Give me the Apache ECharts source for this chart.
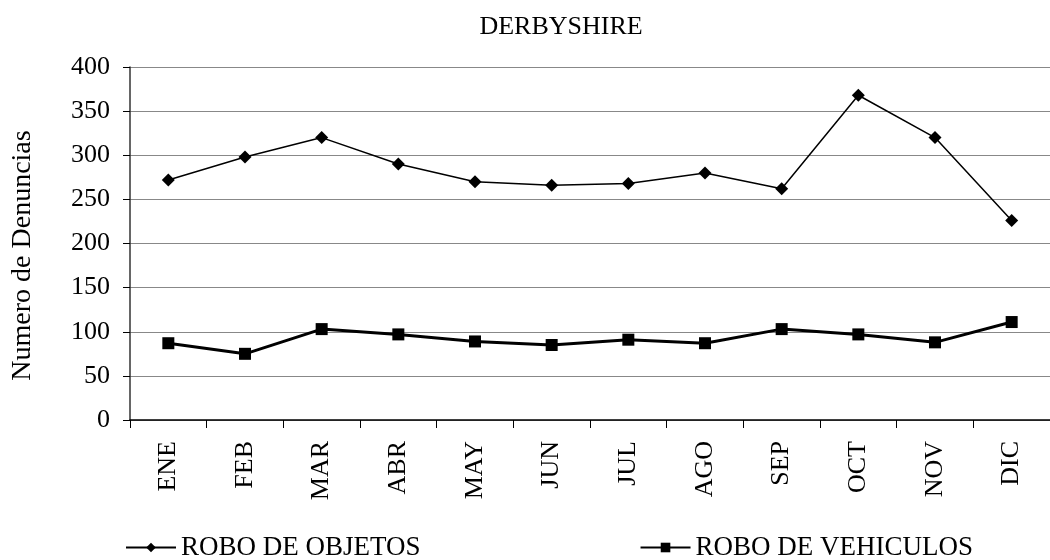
<!DOCTYPE html>
<html>
<head>
<meta charset="utf-8">
<script src="https://cdn.jsdelivr.net/npm/echarts@6/dist/echarts.min.js"></script>
<style>html,body{margin:0;padding:0;background:#fff}#c{width:1050px;height:560px}</style>
</head>
<body>
<div id="c"></div>
<script>
const months = ['ENE','FEB','MAR','ABR','MAY','JUN','JUL','AGO','SEP','OCT','NOV','DIC'];
const roboObjetos = [272, 298, 320, 290, 270, 266, 268, 280, 262, 368, 320, 226];
const roboVehiculos = [87, 75, 103, 97, 89, 85, 91, 87, 103, 97, 88, 111];
const yTicks = [0, 50, 100, 150, 200, 250, 300, 350, 400];
const titleText = 'DERBYSHIRE';
const yName = 'Numero de Denuncias';
const seriesNames = ['ROBO DE OBJETOS', 'ROBO DE VEHICULOS'];

const font = '"Liberation Serif", "Times New Roman", serif';
const chart = echarts.init(document.getElementById('c'));
chart.setOption({
  animation: false,
  backgroundColor: '#fff',
  title: {
    text: titleText, left: 556, top: 9, textAlign: 'center',
    textStyle: { fontFamily: font, fontWeight: 'normal', fontSize: 26, color: '#000' }
  },
  grid: { left: 130, right: -7, top: 67, bottom: 140 },
  legend: {
    bottom: -6, left: 120, itemGap: 219, itemWidth: 50, itemHeight: 12,
    textStyle: { fontFamily: font, fontSize: 27, color: '#000' },
    data: seriesNames
  },
  xAxis: {
    type: 'category', data: months, boundaryGap: true,
    axisLine: { lineStyle: { color: '#000', width: 1.5 } },
    axisTick: { show: true, length: 8, lineStyle: { color: '#000' } },
    axisLabel: { rotate: 90, fontFamily: font, fontSize: 26, color: '#000', margin: 21 }
  },
  yAxis: {
    type: 'value', min: yTicks[0], max: yTicks[yTicks.length - 1], interval: yTicks[1] - yTicks[0],
    name: yName, nameLocation: 'middle', nameGap: 93,
    nameTextStyle: { fontFamily: font, fontSize: 28, color: '#000', padding: [0, 24, 0, 0] },
    axisLine: { show: true, lineStyle: { color: '#333', width: 1.5 } },
    axisTick: { show: true, inside: false, length: 7, lineStyle: { color: '#000' } },
    axisLabel: { fontFamily: font, fontSize: 26, color: '#000', margin: 20 },
    splitLine: { show: true, lineStyle: { color: '#888', width: 1 } }
  },
  series: [
    {
      name: seriesNames[0], type: 'line', data: roboObjetos,
      symbol: 'diamond', symbolSize: 13,
      lineStyle: { color: '#000', width: 1.5 },
      itemStyle: { color: '#000' }
    },
    {
      name: seriesNames[1], type: 'line', data: roboVehiculos,
      symbol: 'rect', symbolSize: 12,
      lineStyle: { color: '#000', width: 3 },
      itemStyle: { color: '#000' }
    }
  ]
});
</script>
</body>
</html>
